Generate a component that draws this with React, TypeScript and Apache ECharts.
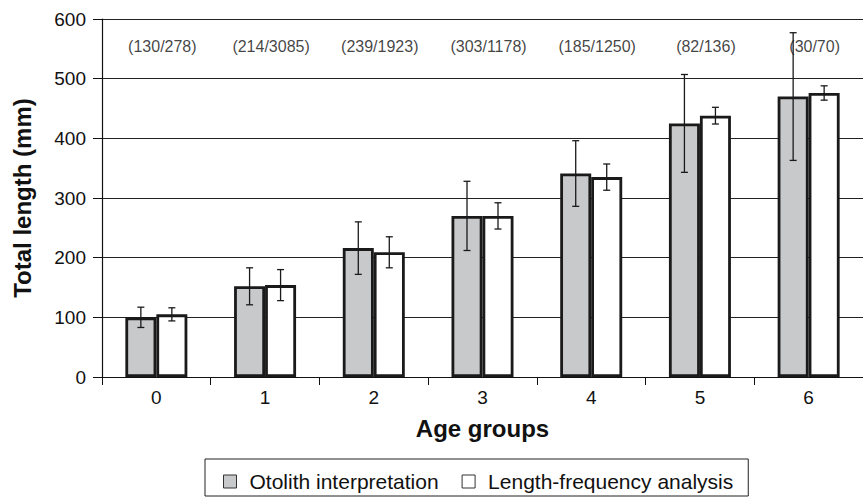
import React, { useEffect, useRef } from "react";
import * as echarts from "echarts";

const categories = ["0", "1", "2", "3", "4", "5", "6"];
const otolithMean = [100, 152, 216, 270, 341, 425, 470];
const otolithSd = [17, 31, 44, 58, 55, 82, 107];
const lfMean = [105, 154, 209, 270, 335, 438, 476];
const lfSd = [11, 26, 26, 22, 22, 14, 12];
const sampleLabels = ["(130/278)", "(214/3085)", "(239/1923)", "(303/1178)", "(185/1250)", "(82/136)", "(30/70)"];
const yTicks = { min: 0, max: 600, interval: 100 };
const ANNOT_Y = 554;

const FONT = "'Liberation Sans', Arial, sans-serif";
const BAR_WIDTH = 31;
const INK = "#1a1a1a";

function errorSeries(mean: number[], sd: number[], side: number) {
  return {
    type: "custom",
    z: 10,
    silent: true,
    data: mean.map((m, i) => [i, m - sd[i], m + sd[i]]),
    encode: { x: 0, y: [1, 2] },
    renderItem: (params: any, api: any) => {
      const idx = api.value(0);
      const lo = api.coord([idx, api.value(1)]);
      const hi = api.coord([idx, api.value(2)]);
      const x = lo[0] + (side * BAR_WIDTH) / 2;
      const cap = 3.5;
      const style = { stroke: INK, lineWidth: 1.3 };
      return {
        type: "group",
        children: [
          { type: "line", shape: { x1: x, y1: lo[1], x2: x, y2: hi[1] }, style },
          { type: "line", shape: { x1: x - cap, y1: lo[1], x2: x + cap, y2: lo[1] }, style },
          { type: "line", shape: { x1: x - cap, y1: hi[1], x2: x + cap, y2: hi[1] }, style },
        ],
      };
    },
  };
}

export default function App() {
  const ref = useRef<HTMLDivElement>(null);
  useEffect(() => {
    if (!ref.current) return;
    const chart = echarts.init(ref.current, null, { renderer: "svg" });
    chart.setOption({
      animation: false,
      textStyle: { fontFamily: FONT },
      grid: { left: 102, right: 0, top: 19, bottom: 120, containLabel: false },
      legend: {
        left: 205,
        top: 459,
        orient: "horizontal",
        data: ["Otolith interpretation", "Length-frequency analysis"],
        borderColor: "#222",
        borderWidth: 1,
        padding: [12, 15, 4, 18],
        itemGap: 23,
        itemWidth: 13,
        itemHeight: 13,
        icon: "rect",
        itemStyle: { borderWidth: 1, borderColor: "#333" },
        textStyle: { fontFamily: FONT, fontSize: 21, color: "#111", padding: [0, 0, 0, 8] },
      },
      xAxis: {
        type: "category",
        data: categories,
        name: "Age groups",
        nameLocation: "middle",
        nameGap: 39,
        nameTextStyle: { fontFamily: FONT, fontSize: 24, fontWeight: "bold", color: "#111" },
        axisLine: { lineStyle: { color: "#111", width: 1.2 } },
        axisTick: { show: true, length: 8, lineStyle: { color: "#111" } },
        axisLabel: { fontFamily: FONT, fontSize: 19, color: "#111", margin: 11 },
        splitLine: { show: false },
      },
      yAxis: {
        type: "value",
        min: yTicks.min,
        max: yTicks.max,
        interval: yTicks.interval,
        name: "Total length (mm)",
        nameLocation: "middle",
        nameRotate: 90,
        nameGap: 68,
        nameTextStyle: { fontFamily: FONT, fontSize: 24, fontWeight: "bold", color: "#111" },
        axisLine: { show: true, lineStyle: { color: "#111", width: 1.2 } },
        axisTick: { show: true, length: 9, lineStyle: { color: "#111" } },
        axisLabel: { fontFamily: FONT, fontSize: 19, color: "#111", margin: 16 },
        splitLine: { show: true, lineStyle: { color: "#222", width: 1 } },
      },
      series: [
        {
          name: "Otolith interpretation",
          type: "bar",
          data: otolithMean,
          barWidth: BAR_WIDTH,
          barGap: "0%",
          itemStyle: { color: "#c8c9cb", borderColor: INK, borderWidth: 2.8 },
        },
        {
          name: "Length-frequency analysis",
          type: "bar",
          data: lfMean,
          barWidth: BAR_WIDTH,
          barGap: "0%",
          itemStyle: { color: "#ffffff", borderColor: INK, borderWidth: 2.8 },
        },
        errorSeries(otolithMean, otolithSd, -1),
        errorSeries(lfMean, lfSd, 1),
        {
          type: "scatter",
          symbolSize: 0,
          silent: true,
          z: 5,
          data: sampleLabels.map((_, i) => [i, ANNOT_Y]),
          label: {
            show: true,
            position: "inside",
            offset: [6, 0],
            formatter: (p: any) => sampleLabels[p.dataIndex],
            fontFamily: FONT,
            fontSize: 16,
            color: "#111",
          },
        },
      ],
    });
    return () => chart.dispose();
  }, []);
  return <div ref={ref} style={{ width: 863, height: 497, position: "absolute", left: 0, top: 0, background: "#fff" }} />;
}
